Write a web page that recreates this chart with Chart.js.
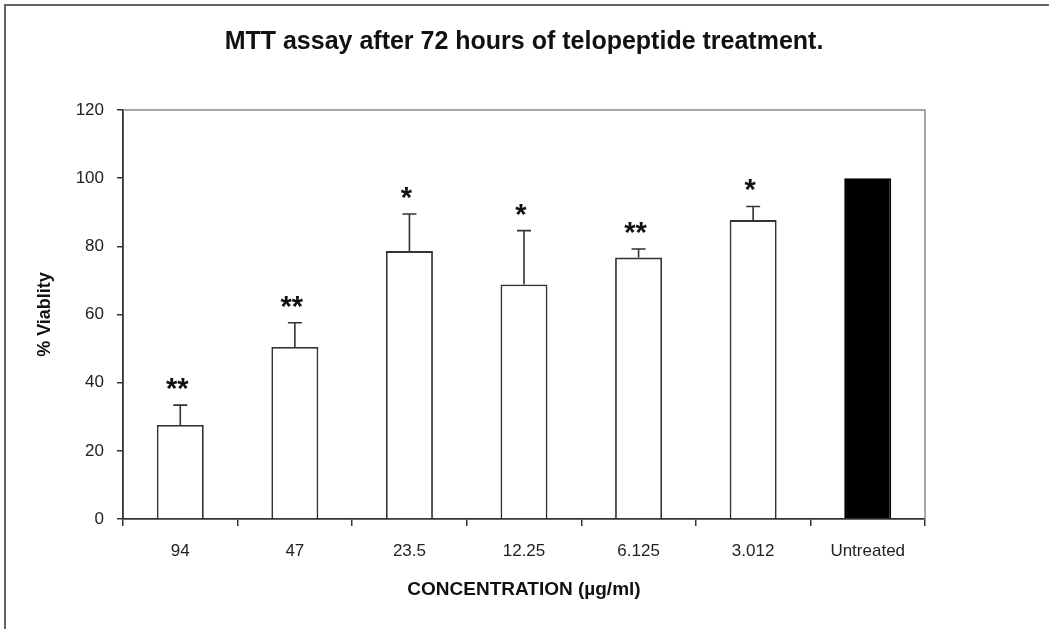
<!DOCTYPE html>
<html lang="en">
<head>
    <meta charset="UTF-8">
    <title>MTT assay after 72 hours of telopeptide treatment</title>
    <style>
        html, body {
            margin: 0;
            padding: 0;
            background-color: #fff;
        }
        body {
            width: 1049px;
            height: 629px;
            overflow: hidden;
            position: relative;
            font-family: Arial, "Liberation Sans", sans-serif;
        }
        .frame {
            position: absolute;
            left: 4px;
            top: 4px;
            width: 1100px;
            height: 700px;
            border-left: 2px solid #666;
            border-top: 2px solid #666;
        }
        .chart-container {
            position: absolute;
            left: 0;
            top: 0;
            width: 1049px;
            height: 629px;
        }
    </style>
    <script src="https://cdn.jsdelivr.net/npm/chart.js"></script>
</head>
<body>
    <div class="frame"></div>
    <div class="chart-container">
        <canvas id="mttChart" width="1049" height="629"></canvas>
    </div>

    <script>
        // data
        var concentrations = ['94', '47', '23.5', '12.25', '6.125', '3.012', 'Untreated'];
        var viability = [27.6, 50.5, 78.6, 68.8, 76.7, 87.7, 100];
        var errorUp = [5.8, 7.1, 10.9, 15.8, 2.5, 4.0, 0];
        var significance = ['**', '**', '*', '*', '**', '*', ''];
        var yTicks = [0, 20, 40, 60, 80, 100, 120];

        var fontFamily = 'Arial, "Liberation Sans", sans-serif';

        // upward error bars + significance stars
        var errorBarPlugin = {
            id: 'errorBars',
            afterDatasetsDraw: function(chart) {
                var ctx = chart.ctx;
                var yScale = chart.scales.y;
                var bars = chart.getDatasetMeta(0).data;
                ctx.save();
                ctx.strokeStyle = '#333';
                ctx.lineWidth = 1.6;
                bars.forEach(function(bar, i) {
                    var top = yScale.getPixelForValue(viability[i] + errorUp[i]);
                    if (errorUp[i] > 0) {
                        ctx.beginPath();
                        ctx.moveTo(bar.x, bar.y);
                        ctx.lineTo(bar.x, top);
                        ctx.moveTo(bar.x - 7, top);
                        ctx.lineTo(bar.x + 7, top);
                        ctx.stroke();
                    }
                    if (significance[i]) {
                        ctx.fillStyle = '#111';
                        ctx.font = 'bold 29px ' + fontFamily;
                        ctx.textAlign = 'center';
                        ctx.textBaseline = 'alphabetic';
                        ctx.fillText(significance[i], bar.x - 3, top - 7);
                    }
                });
                ctx.restore();
            }
        };

        // grey top and right edges of the plot area
        var plotFramePlugin = {
            id: 'plotFrame',
            beforeDatasetsDraw: function(chart) {
                var a = chart.chartArea;
                var ctx = chart.ctx;
                ctx.save();
                ctx.strokeStyle = '#8a8a8a';
                ctx.lineWidth = 1.5;
                ctx.beginPath();
                ctx.moveTo(a.left, a.top);
                ctx.lineTo(a.right, a.top);
                ctx.lineTo(a.right, a.bottom);
                ctx.stroke();
                ctx.restore();
            }
        };

        var ctx = document.getElementById('mttChart').getContext('2d');
        new Chart(ctx, {
            type: 'bar',
            data: {
                labels: concentrations,
                datasets: [{
                    label: '% Viability',
                    data: viability,
                    backgroundColor: concentrations.map(function(c) { return c === 'Untreated' ? '#000' : '#fff'; }),
                    borderColor: concentrations.map(function(c) { return c === 'Untreated' ? '#000' : '#333'; }),
                    borderWidth: 1.8,
                    barPercentage: 0.41,
                    categoryPercentage: 1.0
                }]
            },
            options: {
                responsive: false,
                animation: false,
                layout: {
                    padding: { left: 0, right: 124, top: 0, bottom: 0 }
                },
                plugins: {
                    legend: { display: false },
                    tooltip: { enabled: false },
                    title: {
                        display: true,
                        text: 'MTT assay after 72 hours of telopeptide treatment.',
                        fullSize: false,
                        color: '#111',
                        font: { family: fontFamily, size: 25, weight: 'bold' },
                        padding: { top: 27, bottom: 53 }
                    }
                },
                scales: {
                    x: {
                        afterFit: function(scale) { scale.height = 110; },
                        grid: {
                            offset: true,
                            drawOnChartArea: false,
                            tickLength: 7,
                            color: '#333',
                            lineWidth: 1.5
                        },
                        border: { color: '#333', width: 1.8 },
                        ticks: {
                            color: '#222',
                            padding: 15,
                            maxRotation: 0,
                            font: { family: fontFamily, size: 17 }
                        },
                        title: {
                            display: true,
                            text: 'CONCENTRATION (µg/ml)',
                            color: '#111',
                            font: { family: fontFamily, size: 19, weight: 'bold' },
                            padding: { top: 0, bottom: 28 }
                        }
                    },
                    y: {
                        min: yTicks[0],
                        max: yTicks[yTicks.length - 1],
                        afterFit: function(scale) { scale.width = 123; },
                        afterBuildTicks: function(scale) {
                            scale.ticks = yTicks.map(function(v) { return { value: v }; });
                        },
                        grid: {
                            drawOnChartArea: false,
                            tickLength: 6,
                            color: '#333',
                            lineWidth: 1.5
                        },
                        border: { color: '#333', width: 1.8 },
                        ticks: {
                            color: '#222',
                            padding: 13,
                            font: { family: fontFamily, size: 17 }
                        },
                        title: {
                            display: true,
                            text: '% Viablity',
                            color: '#111',
                            font: { family: fontFamily, size: 18, weight: 'bold' },
                            padding: { top: 34, bottom: 0 }
                        }
                    }
                }
            },
            plugins: [plotFramePlugin, errorBarPlugin]
        });
    </script>
</body>
</html>
